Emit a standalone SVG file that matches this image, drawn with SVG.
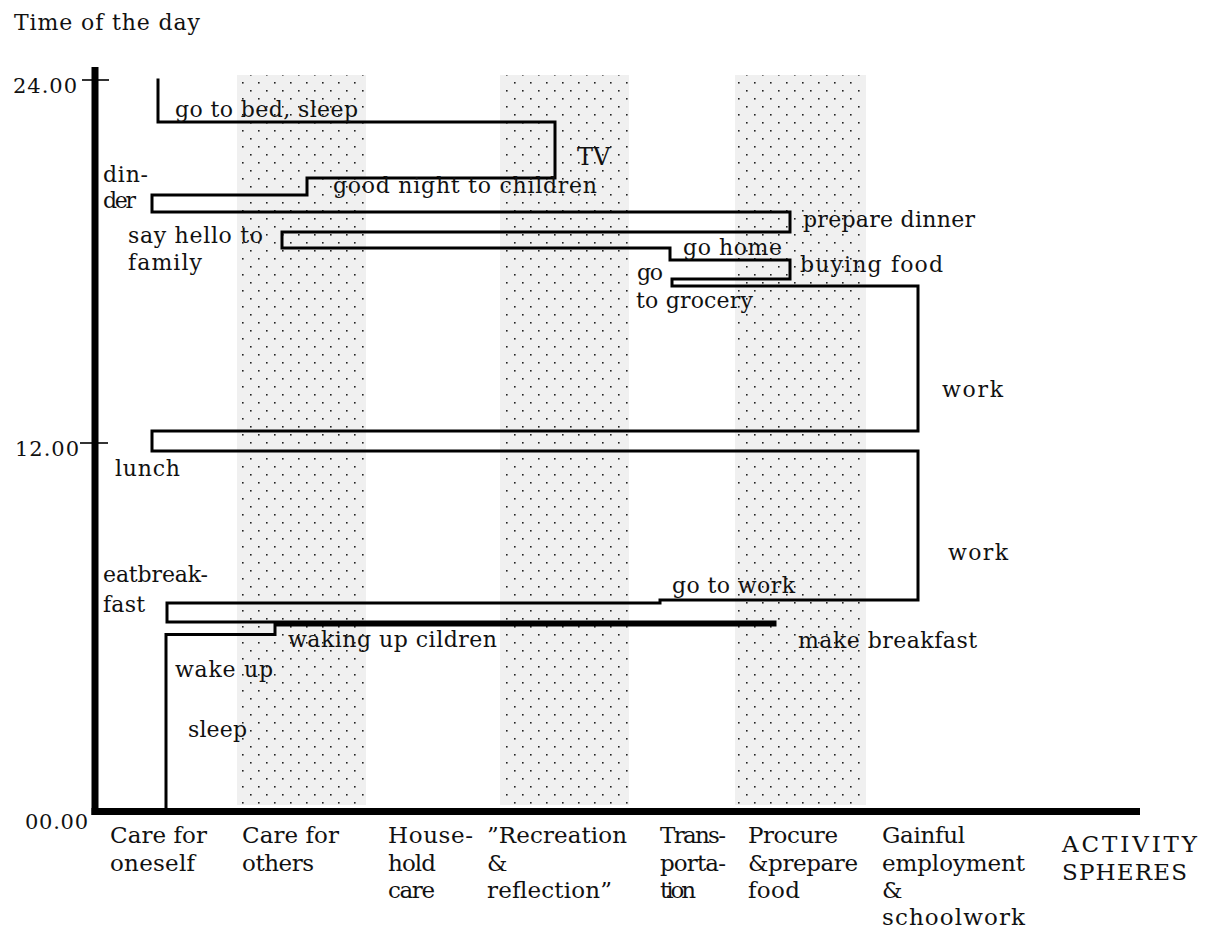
<svg xmlns="http://www.w3.org/2000/svg" width="1207" height="929" viewBox="0 0 1207 929">
<style>
text{font-family:"DejaVu Serif","Liberation Serif",serif;fill:#111;}
.lb{font-size:22px;}
.num{font-size:21px;}
.ax{font-size:23px;}
.trail{fill:none;stroke:#000;stroke-width:3;stroke-linejoin:miter;stroke-linecap:square;}
.tick{stroke:#000;stroke-width:1.6;}
</style>
<defs>
<pattern id="dots" x="0" y="0" width="16" height="16" patternUnits="userSpaceOnUse">
<rect width="16" height="16" fill="#f0f0f0"/>
<rect x="2" y="2" width="1.6" height="1.6" fill="#222"/>
<rect x="10" y="10" width="1.6" height="1.6" fill="#222"/>
</pattern>
</defs>
<rect width="1207" height="929" fill="#fff"/>
<g id="spheres-shading">
<rect x="237" y="75" width="129" height="730" fill="url(#dots)"/>
<rect x="500" y="75" width="129" height="730" fill="url(#dots)"/>
<rect x="735" y="75" width="131" height="730" fill="url(#dots)"/>
</g>
<g id="axes">
<line x1="95" y1="67" x2="95" y2="815" stroke="#000" stroke-width="7"/>
<line x1="91.5" y1="811.5" x2="1140" y2="811.5" stroke="#000" stroke-width="7"/>
<line class="tick" x1="82" y1="80" x2="109" y2="80"/>
<line class="tick" x1="80" y1="443" x2="108" y2="443"/>
</g>
<g id="connectors">
<path class="trail" d="M166,811 V634.5 H275 V625 H775 V622 H167 V603 H660 V600 H918 V451 H152 V431 H918 V286 H672 V279 H790 V260 H670 V248 H282 V232 H790 V212 H152 V195 H307 V178 H555 V122 H158 V80"/>
</g>
<g id="axis-title"><text x="14" y="30" class="lb" textLength="186" lengthAdjust="spacing">Time of the day</text></g>
<g id="tick-24"><text x="13" y="93" class="num" textLength="64" lengthAdjust="spacing">24.00</text></g>
<g id="tick-12"><text x="15" y="456" class="num" textLength="64" lengthAdjust="spacing">12.00</text></g>
<g id="tick-00"><text x="25" y="829" class="num" textLength="63" lengthAdjust="spacing">00.00</text></g>
<g id="n-bed"><text x="175" y="117" class="lb" textLength="183" lengthAdjust="spacing">go to bed, sleep</text></g>
<g id="n-tv"><text x="577" y="165" class="lb" style="font-size:24px">TV</text></g>
<g id="n-dinner"><text x="103" y="182" class="lb" textLength="45" lengthAdjust="spacing">din-</text><text x="103" y="208" class="lb" textLength="33" lengthAdjust="spacing">der</text></g>
<g id="n-goodnight"><text x="333" y="193" class="lb" textLength="264" lengthAdjust="spacing">good night to children</text></g>
<g id="n-prepare"><text x="803" y="227" class="lb" textLength="172" lengthAdjust="spacing">prepare dinner</text></g>
<g id="n-hello"><text x="128" y="243" class="lb" textLength="135" lengthAdjust="spacing">say hello to</text><text x="128" y="270" class="lb" textLength="74" lengthAdjust="spacing">family</text></g>
<g id="n-gohome"><text x="683" y="255" class="lb" textLength="99" lengthAdjust="spacing">go home</text></g>
<g id="n-buying"><text x="800" y="272" class="lb" textLength="143" lengthAdjust="spacing">buying food</text></g>
<g id="n-grocery"><text x="637" y="280" class="lb" textLength="26" lengthAdjust="spacing">go</text><text x="636" y="308" class="lb" textLength="117" lengthAdjust="spacing">to grocery</text></g>
<g id="n-work-pm"><text x="942" y="397" class="lb" textLength="61" lengthAdjust="spacing">work</text></g>
<g id="n-lunch"><text x="115" y="476" class="lb" textLength="65" lengthAdjust="spacing">lunch</text></g>
<g id="n-work-am"><text x="948" y="560" class="lb" textLength="60" lengthAdjust="spacing">work</text></g>
<g id="n-eat"><text x="103" y="582" class="lb" textLength="105" lengthAdjust="spacing">eatbreak-</text><text x="103" y="612" class="lb" textLength="42" lengthAdjust="spacing">fast</text></g>
<g id="n-gowork"><text x="672" y="593" class="lb" textLength="123" lengthAdjust="spacing">go to work</text></g>
<g id="n-waking"><text x="288" y="647" class="lb" textLength="209" lengthAdjust="spacing">waking up cildren</text></g>
<g id="n-makebf"><text x="798" y="648" class="lb" textLength="179" lengthAdjust="spacing">make breakfast</text></g>
<g id="n-wake"><text x="175" y="677" class="lb" textLength="98" lengthAdjust="spacing">wake up</text></g>
<g id="n-sleep"><text x="188" y="737" class="lb" textLength="59" lengthAdjust="spacing">sleep</text></g>
<g id="s-oneself"><text x="110" y="843" class="ax" textLength="97" lengthAdjust="spacing">Care for</text><text x="110" y="871" class="ax" textLength="85" lengthAdjust="spacing">oneself</text></g>
<g id="s-others"><text x="242" y="843" class="ax" textLength="97" lengthAdjust="spacing">Care for</text><text x="242" y="871" class="ax" textLength="72" lengthAdjust="spacing">others</text></g>
<g id="s-household"><text x="388" y="843" class="ax" textLength="85" lengthAdjust="spacing">House-</text><text x="388" y="871" class="ax" textLength="48" lengthAdjust="spacing">hold</text><text x="388" y="898" class="ax" textLength="47" lengthAdjust="spacing">care</text></g>
<g id="s-recreation"><text x="487" y="843" class="ax" textLength="140" lengthAdjust="spacing">”Recreation</text><text x="487" y="871" class="ax">&amp;</text><text x="487" y="898" class="ax" textLength="125" lengthAdjust="spacing">reflection”</text></g>
<g id="s-transport"><text x="660" y="843" class="ax" textLength="66" lengthAdjust="spacing">Trans-</text><text x="660" y="871" class="ax" textLength="66" lengthAdjust="spacing">porta-</text><text x="660" y="898" class="ax" textLength="36" lengthAdjust="spacing">tion</text></g>
<g id="s-food"><text x="748" y="843" class="ax" textLength="90" lengthAdjust="spacing">Procure</text><text x="748" y="871" class="ax" textLength="110" lengthAdjust="spacing">&amp;prepare</text><text x="748" y="898" class="ax" textLength="52" lengthAdjust="spacing">food</text></g>
<g id="s-employment"><text x="882" y="843" class="ax" textLength="83" lengthAdjust="spacing">Gainful</text><text x="882" y="871" class="ax" textLength="143" lengthAdjust="spacing">employment</text><text x="882" y="898" class="ax">&amp;</text><text x="882" y="925" class="ax" textLength="143" lengthAdjust="spacing">schoolwork</text></g>
<g id="axis-x-title"><text x="1062" y="852" class="ax" textLength="135" lengthAdjust="spacing">ACTIVITY</text><text x="1062" y="880" class="ax" textLength="125" lengthAdjust="spacing">SPHERES</text></g>
</svg>
